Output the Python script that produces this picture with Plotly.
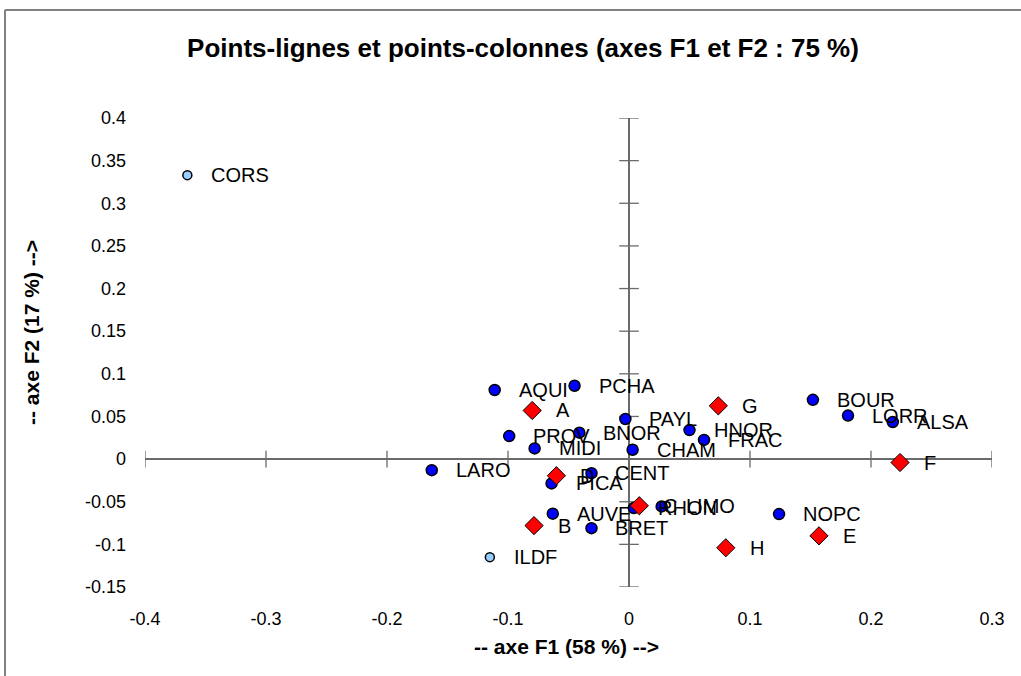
import plotly.graph_objects as go

# Row points (regions)
row_labels = ["CORS", "ILDF", "AQUI", "PCHA", "PAYL", "PROV", "BNOR", "MIDI", "CHAM",
              "HNOR", "FRAC", "BOUR", "LORR", "ALSA", "LARO", "CENT", "PICA", "RHON",
              "LIMO", "AUVE", "BRET", "NOPC"]
row_x = [-0.365, -0.115, -0.111, -0.045, -0.003, -0.099, -0.041, -0.078, 0.003,
         0.050, 0.062, 0.152, 0.181, 0.218, -0.163, -0.031, -0.064, 0.004,
         0.027, -0.063, -0.031, 0.124]
row_y = [0.333, -0.115, 0.081, 0.086, 0.047, 0.027, 0.031, 0.0125, 0.011,
         0.034, 0.0225, 0.0695, 0.051, 0.0435, -0.013, -0.0165, -0.0285, -0.0575,
         -0.0555, -0.064, -0.081, -0.0645]
row_supplementary = ["CORS", "ILDF"]

# Column points
col_labels = ["A", "B", "C", "D", "E", "F", "G", "H"]
col_x = [-0.080, -0.0785, 0.0085, -0.060, 0.157, 0.224, 0.0738, 0.080]
col_y = [0.057, -0.078, -0.0547, -0.0195, -0.090, -0.004, 0.0625, -0.104]

x_ticks = [-0.4, -0.3, -0.2, -0.1, 0, 0.1, 0.2, 0.3]
x_ticktext = ["-0.4", "-0.3", "-0.2", "-0.1", "0", "0.1", "0.2", "0.3"]
y_ticks = [-0.15, -0.1, -0.05, 0, 0.05, 0.1, 0.15, 0.2, 0.25, 0.3, 0.35, 0.4]
y_ticktext = ["-0.15", "-0.1", "-0.05", "0", "0.05", "0.1", "0.15", "0.2", "0.25",
              "0.3", "0.35", "0.4"]

title_text = "Points-lignes et points-colonnes (axes F1 et F2 : 75 %)"
x_title = "-- axe F1 (58 %) -->"
y_title = "-- axe F2 (17 %) -->"

FONT = "Liberation Sans, Arial, sans-serif"
AXIS_COLOR = "#6a6a6a"

fig = go.Figure()

# cross tick marks on the central axes
fig.add_trace(go.Scatter(
    x=x_ticks, y=[0] * len(x_ticks), mode="markers", hoverinfo="skip",
    marker=dict(symbol="line-ns", size=12, opacity=1, line=dict(width=1.3, color=AXIS_COLOR)),
    showlegend=False))
fig.add_trace(go.Scatter(
    x=[0] * len(y_ticks), y=y_ticks, mode="markers", hoverinfo="skip",
    marker=dict(symbol="line-ew", size=14, opacity=1, line=dict(width=1.3, color=AXIS_COLOR)),
    showlegend=False))

row_colors = ["#99CCFF" if lab in row_supplementary else "#0000FF" for lab in row_labels]
row_sizes = [9 if lab in row_supplementary else 11 for lab in row_labels]

fig.add_trace(go.Scatter(
    x=row_x, y=row_y, mode="markers", text=row_labels, name="Lignes",
    marker=dict(symbol="circle", size=row_sizes, color=row_colors, opacity=1,
                line=dict(width=1.5, color="#000000")),
    showlegend=False))
fig.add_trace(go.Scatter(
    x=col_x, y=col_y, mode="markers", text=col_labels, name="Colonnes",
    marker=dict(symbol="diamond", size=14, color="#FF0000", opacity=1,
                line=dict(width=1, color="#000000")),
    showlegend=False))

annotations = []
for lab, xv, yv in list(zip(row_labels, row_x, row_y)) + list(zip(col_labels, col_x, col_y)):
    annotations.append(dict(
        x=xv, y=yv, xref="x", yref="y", text=lab, showarrow=False,
        xanchor="left", yanchor="middle", xshift=22, yshift=0,
        font=dict(family=FONT, size=20, color="#000000")))

W, H = 1021, 676
L, R, T, B = 145, 29, 118, 89
pw, ph = W - L - R, H - T - B

def px_x(p):
    return (p - L) / pw

def px_y(p):
    return (H - B - p) / ph

annotations.append(dict(
    x=px_x(566), y=px_y(646), xref="paper", yref="paper", text="<b>" + x_title + "</b>",
    showarrow=False, xanchor="center", yanchor="middle",
    font=dict(family=FONT, size=21, color="#000000")))
annotations.append(dict(
    x=px_x(31), y=px_y(333), xref="paper", yref="paper", text="<b>" + y_title + "</b>",
    showarrow=False, xanchor="center", yanchor="middle", textangle=-90,
    font=dict(family=FONT, size=21, color="#000000")))

shapes = [
    dict(type="line", xref="paper", yref="paper", x0=px_x(5), x1=px_x(W + 5),
         y0=px_y(10), y1=px_y(10), line=dict(color="#808080", width=2)),
    dict(type="line", xref="paper", yref="paper", x0=px_x(5), x1=px_x(5),
         y0=px_y(10), y1=px_y(H + 5), line=dict(color="#808080", width=2)),
]

fig.update_layout(
    width=W, height=H,
    margin=dict(l=L, r=R, t=T, b=B, autoexpand=False),
    paper_bgcolor="white", plot_bgcolor="white",
    title=dict(text="<b>" + title_text + "</b>", x=523 / W, xanchor="center",
               y=1 - 48 / H, yanchor="middle", xref="container", yref="container",
               font=dict(family=FONT, size=26, color="#000000")),
    xaxis=dict(range=[-0.4, 0.3], tickmode="array", tickvals=x_ticks, ticktext=x_ticktext,
               showgrid=False, showline=False, zeroline=True, zerolinecolor=AXIS_COLOR,
               zerolinewidth=1.6, ticks="", ticklabelstandoff=19,
               tickfont=dict(family=FONT, size=18, color="#000000")),
    yaxis=dict(range=[-0.15, 0.4], tickmode="array", tickvals=y_ticks, ticktext=y_ticktext,
               showgrid=False, showline=False, zeroline=True, zerolinecolor=AXIS_COLOR,
               zerolinewidth=1.6, ticks="", ticklabelstandoff=18,
               tickfont=dict(family=FONT, size=18, color="#000000")),
    annotations=annotations,
    shapes=shapes,
    showlegend=False,
)

fig.write_html("out.html", config={"displayModeBar": False},
               post_script="document.body.style.margin='0';")
